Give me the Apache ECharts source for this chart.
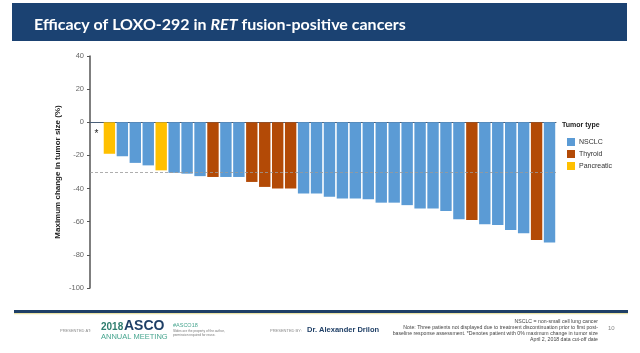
<!DOCTYPE html>
<html>
<head>
<meta charset="utf-8">
<script src="https://cdn.jsdelivr.net/npm/echarts@6/dist/echarts.min.js"></script>
<style>
  html, body { margin: 0; padding: 0; background: #fff; }
  #chart { width: 640px; height: 353px; }
</style>
</head>
<body>
<div id="chart"></div>
<script>
// one entry per patient, ordered as in the waterfall
var patients = [];
for (var i = 1; i <= 36; i++) patients.push('P' + i);
var tumorType = ['NSCLC', 'Pancreatic', 'NSCLC', 'NSCLC', 'NSCLC', 'Pancreatic',
  'NSCLC', 'NSCLC', 'NSCLC', 'Thyroid', 'NSCLC', 'NSCLC',
  'Thyroid', 'Thyroid', 'Thyroid', 'Thyroid', 'NSCLC', 'NSCLC',
  'NSCLC', 'NSCLC', 'NSCLC', 'NSCLC', 'NSCLC', 'NSCLC',
  'NSCLC', 'NSCLC', 'NSCLC', 'NSCLC', 'NSCLC', 'Thyroid',
  'NSCLC', 'NSCLC', 'NSCLC', 'NSCLC', 'Thyroid', 'NSCLC'];
var maxChange = [0, -19, -20.5, -24.5, -26, -29,
  -30.5, -31, -32.5, -33, -33, -33,
  -36, -39, -40, -40, -43, -43,
  -45, -46, -46, -46.5, -48.5, -48.5,
  -50, -52, -52, -53.5, -58.5, -59,
  -61.5, -62, -65, -67, -71, -72.5];
var types = ['NSCLC', 'Thyroid', 'Pancreatic'];
var typeColors = ['#5b9bd5', '#b34a06', '#ffc000'];
var yTicks = [40, 20, 0, -20, -40, -60, -80, -100];
var prThreshold = -30;

var chart = echarts.init(document.getElementById('chart'));

var series = types.map(function (t, k) {
  var s = {
    name: t,
    type: 'bar',
    stack: 'all',
    barCategoryGap: '12%',
    itemStyle: { color: typeColors[k] },
    data: maxChange.map(function (v, j) {
      if (tumorType[j] !== t) return '-';
      if (j === 0) {
        // patient with 0% change, marked with an asterisk
        return { value: v, label: { show: true, position: 'bottom', distance: 7, formatter: '*', color: '#222', fontSize: 10 } };
      }
      return v;
    })
  };
  if (k === 0) {
    s.markLine = {
      silent: true,
      symbol: 'none',
      label: { show: false },
      lineStyle: { color: '#999', type: [3, 2], width: 0.8 },
      data: [{ yAxis: prThreshold }]
    };
  }
  return s;
});

var option = {
  animation: false,
  textStyle: { fontFamily: 'Liberation Sans' },
  title: {
    left: 29,
    top: 12,
    text: '{a|Efficacy of LOXO-292 in }{b|RET}{a| fusion-positive cancers}',
    textStyle: {
      rich: {
        a: { color: '#fff', fontSize: 16, fontFamily: 'Lato', fontWeight: 'bold' },
        b: { color: '#fff', fontSize: 16, fontFamily: 'Lato', fontWeight: 'bold', fontStyle: 'italic' }
      }
    }
  },
  legend: {
    orient: 'vertical',
    left: 562,
    top: 133,
    itemWidth: 8,
    itemHeight: 8,
    itemGap: 4,
    icon: 'rect',
    data: types,
    textStyle: { fontSize: 7, color: '#333', padding: [0, 0, 0, -1] }
  },
  grid: { left: 90, right: 84, top: 56, bottom: 65 },
  xAxis: {
    type: 'category',
    data: patients,
    axisLine: { onZero: true, lineStyle: { color: '#4a5f78', width: 1 } },
    axisTick: { show: false },
    axisLabel: { show: false }
  },
  yAxis: {
    type: 'value',
    min: -100,
    max: 40,
    interval: 20,
    name: 'Maximum change in tumor size (%)',
    nameLocation: 'middle',
    nameGap: 28,
    nameMoveOverlap: false,
    nameTextStyle: { fontSize: 8, fontWeight: 'bold', color: '#222' },
    axisLine: { show: true, lineStyle: { color: '#555', width: 1.5 } },
    axisTick: { show: true, length: 3, lineStyle: { color: '#555' } },
    axisLabel: {
      fontSize: 7.5, color: '#666', margin: 6,
      formatter: function (v) { return yTicks.indexOf(v) >= 0 ? String(v) : ''; }
    },
    splitLine: { show: false }
  },
  graphic: [
    { type: 'rect', z: -1, shape: { x: 12, y: 3, width: 615, height: 38 }, style: { fill: '#1b4272' } },
    { type: 'text', left: 562, top: 122, style: { text: 'Tumor type', fontSize: 7, fontWeight: 'bold', fill: '#222' } },
    { type: 'rect', shape: { x: 14, y: 310, width: 614, height: 3 }, style: { fill: '#1f3f66' } },
    { type: 'rect', shape: { x: 14, y: 313, width: 614, height: 1.2 }, style: { fill: '#e9e1a6' } },
    { type: 'text', x: 60, y: 329, style: { text: 'PRESENTED AT:', fontSize: 4, fill: '#888' } },
    { type: 'text', x: 101, y: 322, style: { text: '2018', fontSize: 10, fontWeight: 'bold', fill: '#2e7d6e' } },
    { type: 'text', x: 124, y: 319, style: { text: 'ASCO', fontSize: 14, fontWeight: 'bold', fill: '#1f3f66' } },
    { type: 'text', x: 101, y: 333, style: { text: 'ANNUAL MEETING', fontSize: 7.5, fill: '#47a58f' } },
    { type: 'text', x: 173, y: 322, style: { text: '#ASCO18', fontSize: 5.5, fill: '#47a58f' } },
    { type: 'text', x: 173, y: 330, style: { text: 'Slides are the property of the author,', fontSize: 3.2, fill: '#777' } },
    { type: 'text', x: 173, y: 334, style: { text: 'permission required for reuse.', fontSize: 3.2, fill: '#777' } },
    { type: 'text', x: 270, y: 329, style: { text: 'PRESENTED BY:', fontSize: 4, fill: '#888' } },
    { type: 'text', x: 307, y: 326, style: { text: 'Dr. Alexander Drilon', fontSize: 7.5, fontWeight: 'bold', fill: '#1f3f66' } },
    { type: 'text', x: 598, y: 319, style: { text: 'NSCLC = non-small cell lung cancer', fontSize: 5.2, fill: '#444', align: 'right' } },
    { type: 'text', x: 598, y: 325, style: { text: 'Note: Three patients not displayed due to treatment discontinuation prior to first post-', fontSize: 5.2, fill: '#444', align: 'right' } },
    { type: 'text', x: 598, y: 331, style: { text: 'baseline response assessment. *Denotes patient with 0% maximum change in tumor size', fontSize: 5.2, fill: '#444', align: 'right' } },
    { type: 'text', x: 598, y: 337, style: { text: 'April 2, 2018 data cut-off date', fontSize: 5.2, fill: '#444', align: 'right' } },
    { type: 'text', x: 608, y: 325, style: { text: '10', fontSize: 6, fill: '#888' } }
  ],
  series: series
};
chart.setOption(option);
</script>
</body>
</html>
